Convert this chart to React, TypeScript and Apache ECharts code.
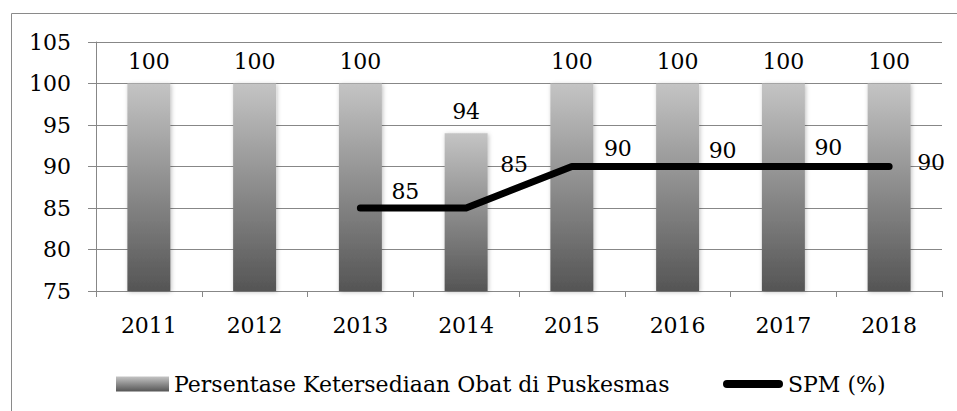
import React, { useEffect, useRef } from "react";
import * as echarts from "echarts";

const categories = ["2011", "2012", "2013", "2014", "2015", "2016", "2017", "2018"];
const obatValues = [100, 100, 100, 94, 100, 100, 100, 100];
const spmValues: (number | null)[] = [null, null, 85, 85, 90, 90, 90, 90];
const yTicks = [75, 80, 85, 90, 95, 100, 105];

const barName = "Persentase Ketersediaan Obat di Puskesmas";
const lineName = "SPM (%)";

// label offsets for the SPM labels (styling only)
const spmLabelOffsets: [number, number][] = [
  [0, 0], [0, 0], [45, -17], [48, -44], [46, -18], [45, -16], [45, -19], [42, -4],
];

const FONT = "DejaVu Serif";
const GRID_COLOR = "#878787";

export default function App() {
  const ref = useRef<HTMLDivElement>(null);
  useEffect(() => {
    if (!ref.current) return;
    const chart = echarts.init(ref.current, null, { renderer: "svg" });
    const barGradient = new echarts.graphic.LinearGradient(0, 0, 0, 1, [
      { offset: 0, color: "#c4c4c4" },
      { offset: 1, color: "#555555" },
    ]);
    chart.setOption({
      animation: false,
      backgroundColor: "#ffffff",
      textStyle: { fontFamily: FONT },
      graphic: [
        {
          type: "rect",
          shape: { x: 11.5, y: 13.5, width: 1000, height: 1000 },
          style: { fill: "none", stroke: "#8a8a8a", lineWidth: 1 },
          silent: true,
        },
      ],
      grid: { left: 96, right: 15, top: 42, bottom: 120, containLabel: false },
      legend: [
        {
          data: [barName],
          left: 111,
          top: 368,
          itemWidth: 53,
          itemHeight: 15,
          icon: "rect",
          textStyle: { fontFamily: FONT, fontSize: 22, color: "#000" },
        },
        {
          data: [lineName],
          left: 718,
          top: 368,
          itemWidth: 60,
          itemHeight: 8,
          icon: "path://M4,0 L56,0 A4,4 0 0 1 56,8 L4,8 A4,4 0 0 1 4,0 Z",
          itemStyle: { color: "#000" },
          textStyle: { fontFamily: FONT, fontSize: 22, color: "#000" },
        },
      ],
      xAxis: {
        type: "category",
        data: categories,
        boundaryGap: true,
        axisLine: { show: true, lineStyle: { color: GRID_COLOR, width: 1 } },
        axisTick: { show: true, length: 6, alignWithLabel: false, lineStyle: { color: GRID_COLOR } },
        axisLabel: { fontFamily: FONT, fontSize: 22, color: "#000", margin: 23 },
        splitLine: { show: false },
      },
      yAxis: {
        type: "value",
        min: yTicks[0],
        max: yTicks[yTicks.length - 1],
        interval: 5,
        axisLine: { show: true, lineStyle: { color: GRID_COLOR, width: 1 } },
        axisTick: { show: true, length: 8, lineStyle: { color: GRID_COLOR } },
        axisLabel: { fontFamily: FONT, fontSize: 22, color: "#000", margin: 25 },
        splitLine: { show: true, lineStyle: { color: GRID_COLOR, width: 1 } },
      },
      series: [
        {
          name: barName,
          type: "bar",
          data: obatValues,
          barWidth: 43,
          itemStyle: {
            color: barGradient,
            shadowBlur: 4,
            shadowColor: "rgba(0,0,0,0.25)",
            shadowOffsetX: 1,
            shadowOffsetY: 1,
          },
          label: {
            show: true,
            position: "top",
            distance: 11,
            fontFamily: FONT,
            fontSize: 22,
            color: "#000",
          },
          z: 2,
        },
        {
          name: lineName,
          type: "line",
          data: spmValues.map((v, i) => ({
            value: v,
            label: { offset: spmLabelOffsets[i] },
          })),
          symbol: "circle",
          symbolSize: 1,
          showSymbol: true,
          itemStyle: { color: "#000" },
          lineStyle: { color: "#000", width: 7, cap: "round", join: "round" },
          label: {
            show: true,
            position: "inside",
            fontFamily: FONT,
            fontSize: 22,
            color: "#000",
          },
          z: 3,
        },
      ],
    });
    return () => chart.dispose();
  }, []);
  return (
    <div
      ref={ref}
      style={{ position: "fixed", left: 0, top: 0, width: 957, height: 411, background: "#fff" }}
    />
  );
}
